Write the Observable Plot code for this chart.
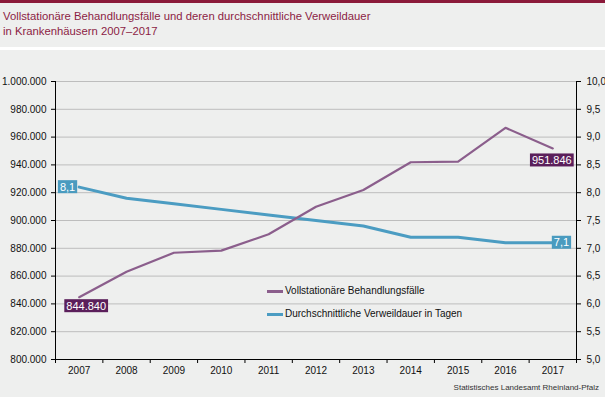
<!DOCTYPE html>
<html><head><meta charset="utf-8">
<script src="https://cdn.jsdelivr.net/npm/d3@7"></script>
<script src="https://cdn.jsdelivr.net/npm/@observablehq/plot@0.6"></script>
<style>
body{margin:0;background:#eeefee;font-family:"Liberation Sans",Arial,sans-serif;}
#wrap{position:relative;width:605px;height:397px;background:#eeefee;overflow:hidden}
#bar{position:absolute;left:0;top:0;width:605px;height:3px;background:#8b1a3a}
#title{position:absolute;left:3px;top:9px;font-size:11.3px;line-height:14.5px;color:#8c1d45;white-space:nowrap}
#sep{position:absolute;left:0;top:47px;width:605px;height:3px;background:#fff}
#chart{position:absolute;left:0;top:50px}
#caption{position:absolute;right:6px;top:383px;font-size:8px;color:#333;white-space:nowrap}
.leg{position:absolute;font-size:10px;color:#111;white-space:nowrap;line-height:12px}
.sw{position:absolute;width:16px;height:3px}
</style></head>
<body>
<div id="wrap">
  <div id="bar"></div>
  <div id="title">Vollstationäre Behandlungsfälle und deren durchschnittliche Verweildauer<br>in Krankenhäusern 2007–2017</div>
  <div id="sep"></div>
  <div id="chart"></div>
  <div class="sw" style="left:267px;top:290px;background:#8b5e8c"></div>
  <div class="leg" style="left:285px;top:285px">Vollstationäre Behandlungsfälle</div>
  <div class="sw" style="left:267px;top:312.5px;background:#4b9cc2"></div>
  <div class="leg" style="left:285px;top:308px">Durchschnittliche Verweildauer in Tagen</div>
  <div id="caption">Statistisches Landesamt Rheinland-Pfalz</div>
</div>
<script>
const years = [2007, 2008, 2009, 2010, 2011, 2012, 2013, 2014, 2015, 2016, 2017];
const faelle = [844840, 863100, 876800, 878300, 890100, 909900, 921900, 941900, 942400, 966700, 951846];
const verweildauer = [8.1, 7.9, 7.8, 7.7, 7.6, 7.5, 7.4, 7.2, 7.2, 7.1, 7.1];
const leftTicks = [800000, 820000, 840000, 860000, 880000, 900000, 920000, 940000, 960000, 980000, 1000000];
const rightTicks = [5.0, 5.5, 6.0, 6.5, 7.0, 7.5, 8.0, 8.5, 9.0, 9.5, 10.0];
const xDomain = [2006.5, 2017.5];
const yDomain = [800000, 1000000];
const rDomain = [5, 10];

const purple = "#8b5e8c", blue = "#4b9cc2";
const purpleBox = "#5b1f5b", blueBox = "#4a9bbf";

const de = d3.formatLocale({decimal: ",", thousands: ".", grouping: [3], currency: ["", " €"]});
const fmtLeft = de.format(",d");
const fmtRight = de.format(".1f");
const toLeft = v => yDomain[0] + (v - rDomain[0]) * (yDomain[1] - yDomain[0]) / (rDomain[1] - rDomain[0]);
const fromLeft = v => rDomain[0] + (v - yDomain[0]) * (rDomain[1] - rDomain[0]) / (yDomain[1] - yDomain[0]);

const purpleData = years.map((year, i) => ({year, value: faelle[i]}));
const blueData = years.map((year, i) => ({year, value: toLeft(verweildauer[i]), raw: verweildauer[i]}));
const bounds = years.map(y => y - 0.5).concat([years[years.length - 1] + 0.5]);

const last = years.length - 1;
const chart = Plot.plot({
  width: 605, height: 347,
  marginLeft: 55, marginRight: 29, marginTop: 31, marginBottom: 38,
  style: {background: "transparent", fontFamily: "'Liberation Sans', Arial, sans-serif", fontSize: "10px", color: "#111", overflow: "visible"},
  x: {type: "linear", domain: xDomain},
  y: {domain: yDomain},
  marks: [
    Plot.gridY(leftTicks, {stroke: "#bdbdbd", strokeOpacity: 1}),
    Plot.axisY(leftTicks, {anchor: "left", tickSize: 4, tickPadding: 5, tickFormat: fmtLeft, label: null, stroke: "#000"}),
    Plot.axisY(rightTicks.map(toLeft), {anchor: "right", tickSize: 4, tickPadding: 6, tickFormat: d => fmtRight(fromLeft(d)), label: null, stroke: "#000"}),
    Plot.axisX(bounds, {tickSize: 4, tickFormat: () => "", label: null, stroke: "#000"}),
    Plot.axisX(years, {tickSize: 0, tickPadding: 7, tickFormat: d => String(d), label: null}),
    Plot.ruleX(xDomain, {stroke: "#000"}),
    Plot.ruleY([yDomain[0]], {stroke: "#000"}),
    Plot.line(blueData, {x: "year", y: "value", stroke: blue, strokeWidth: 3}),
    Plot.line(purpleData, {x: "year", y: "value", stroke: purple, strokeWidth: 2.2}),
    Plot.text([blueData[0]], {x: "year", y: "value", text: d => fmtRight(d.raw), fill: "white", fontSize: 11, textAnchor: "end", dx: -4, dy: 0}),
    Plot.text([blueData[last]], {x: "year", y: "value", text: d => fmtRight(d.raw), fill: "white", fontSize: 11, textAnchor: "start", dx: 1, dy: 0}),
    Plot.text([purpleData[0]], {x: "year", y: "value", text: d => fmtLeft(d.value), fill: "white", fontSize: 11, textAnchor: "middle", dx: 7, dy: 9}),
    Plot.text([purpleData[last]], {x: "year", y: "value", text: d => fmtLeft(d.value), fill: "white", fontSize: 11, textAnchor: "middle", dx: -1, dy: 12})
  ]
});
document.getElementById("chart").appendChild(chart);

// label boxes behind value labels
const svg = d3.select(chart);
svg.selectAll('g[aria-label="text"] text').each(function() {
  const t = this.textContent;
  const bb = this.getBBox();
  const g = this.parentNode;
  const isPurple = t.includes(".");
  const px = 2, py = 0.5;
  const tr = this.getAttribute("transform");
  const rect = document.createElementNS("http://www.w3.org/2000/svg", "rect");
  rect.setAttribute("x", bb.x - px);
  rect.setAttribute("y", bb.y - py);
  rect.setAttribute("width", bb.width + 2 * px);
  rect.setAttribute("height", bb.height + 2 * py);
  rect.setAttribute("fill", isPurple ? purpleBox : blueBox);
  if (tr) rect.setAttribute("transform", tr);
  g.insertBefore(rect, this);
});
</script>
</body></html>
